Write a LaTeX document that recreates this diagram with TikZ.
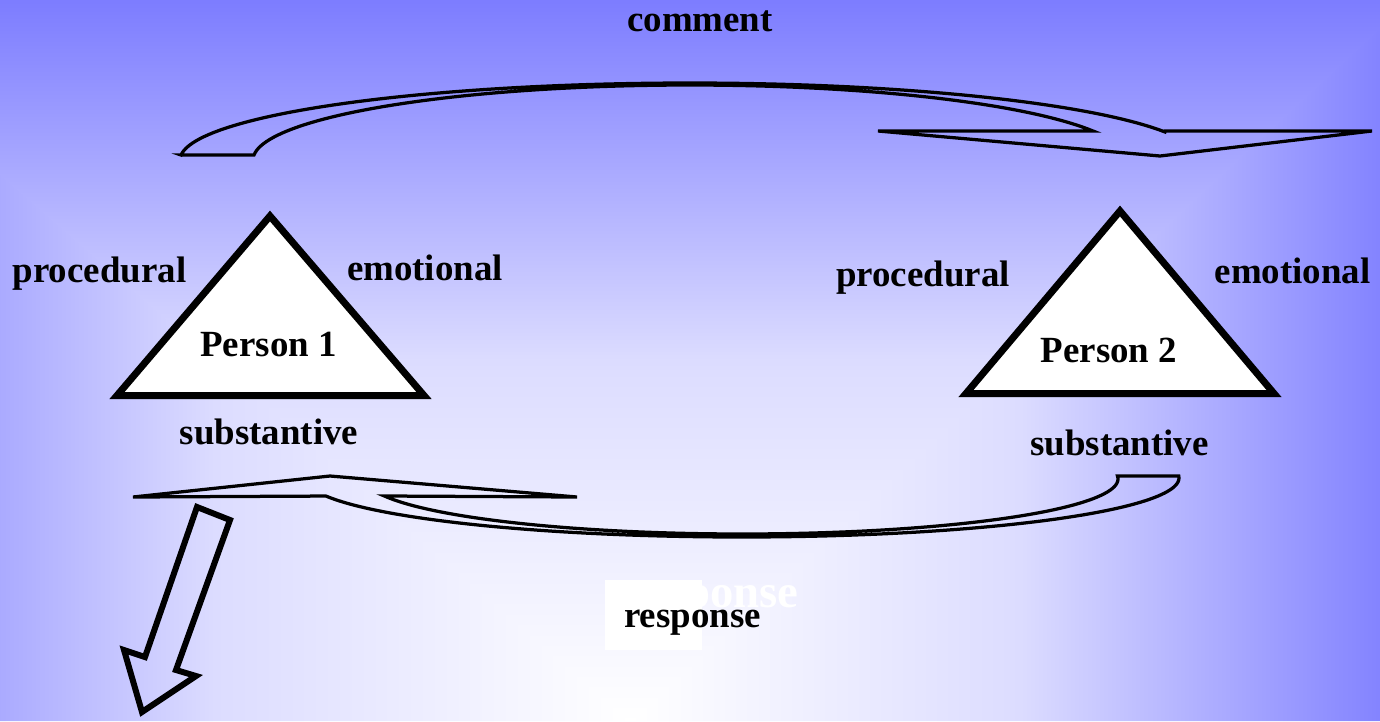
\documentclass[tikz,border=0pt]{standalone}
\usepackage{fontspec}
\setmainfont{Liberation Serif}
\definecolor{edgeblue}{RGB}{124,124,255}
\definecolor{midblue}{RGB}{220,220,255}
\tikzset{
  lbl/.style={font=\fontsize{21}{25}\selectfont\bfseries, inner sep=0pt, anchor=base, text=black},
  ghostlbl/.style={font=\fontsize{26.6}{30}\selectfont\bfseries, inner sep=0pt, anchor=base, text=white},
  tri/.style={draw=black, fill=white, line width=0.14cm, line join=miter},
  flow/.style={draw=black, line width=0.065cm, line join=miter},
  bigarrow/.style={draw=black, line width=0.12cm, line join=miter},
}
\begin{document}
\begin{tikzpicture}[x=0.02cm, y=-0.02cm]
\useasboundingbox (0,0) rectangle (1380,721);
% background: rectangular gradient from bottom centre
\begin{scope}
\clip (0,0) rectangle (1380,721);
\shade[left color=edgeblue, right color=white, middle color=midblue] (630,721) -- (-200,0) -- (-200,721) -- cycle;
\shade[left color=white, right color=edgeblue, middle color=midblue] (630,721) -- (1410,0) -- (1410,721) -- cycle;
\shade[top color=edgeblue, bottom color=white, middle color=midblue] (630,723) -- (-204,-2) -- (1414,-2) -- cycle;
\end{scope}

% triangles
\draw[tri] (270,216) -- (117,395.5) -- (424,395.5) -- cycle;
\draw[tri] (1120,211) -- (966,393.5) -- (1274,393.5) -- cycle;

% top curved arrow (comment)
\draw[flow] (181,155) -- plot[samples=90, domain=176.2:22.8, variable=\t] ({690+437*cos(\t)},{160-75*sin(\t)})
  -- (878,131) -- (1160,156) -- (1372,131) -- (1165,131)
  -- plot[samples=90, domain=21.4:176.3, variable=\t] ({690+510*cos(\t)},{160-77*sin(\t)}) -- cycle;

% bottom curved arrow (response)
\draw[flow] plot[samples=90, domain=-2:162.2, variable=\t] ({742+437*cos(\t)},{478+59*sin(\t)})
  -- (133,497) -- (330,476) -- (577,497)
  -- plot[samples=90, domain=162:-3.1, variable=\t] ({742+376*cos(\t)},{479+55*sin(\t)}) -- cycle;

% thick down-left arrow
\draw[bigarrow] (197,507) -- (230,520) -- (176,670) -- (196,676) -- (142,712) -- (124,650) -- (145,657) -- cycle;

% labels
\node[lbl] (comment) at (700,31) {comment};
\node[lbl] (proc1) at (99.5,282) {procedural};
\node[lbl] (emo1) at (425,280) {emotional};
\node[lbl] (p1) at (268.5,356) {Person 1};
\node[lbl] (sub1) at (269,444) {substantive};
\node[lbl] (proc2) at (923,286) {procedural};
\node[lbl] (emo2) at (1292.5,283) {emotional};
\node[lbl] (p2) at (1109,362) {Person 2};
\node[lbl] (sub2) at (1119.5,455) {substantive};

\node[ghostlbl] (ghost) at (712,607) {response};
\fill[white] (605,580) rectangle (702,650);
\node[lbl] (response) at (692.5,627) {response};
\end{tikzpicture}
\end{document}
